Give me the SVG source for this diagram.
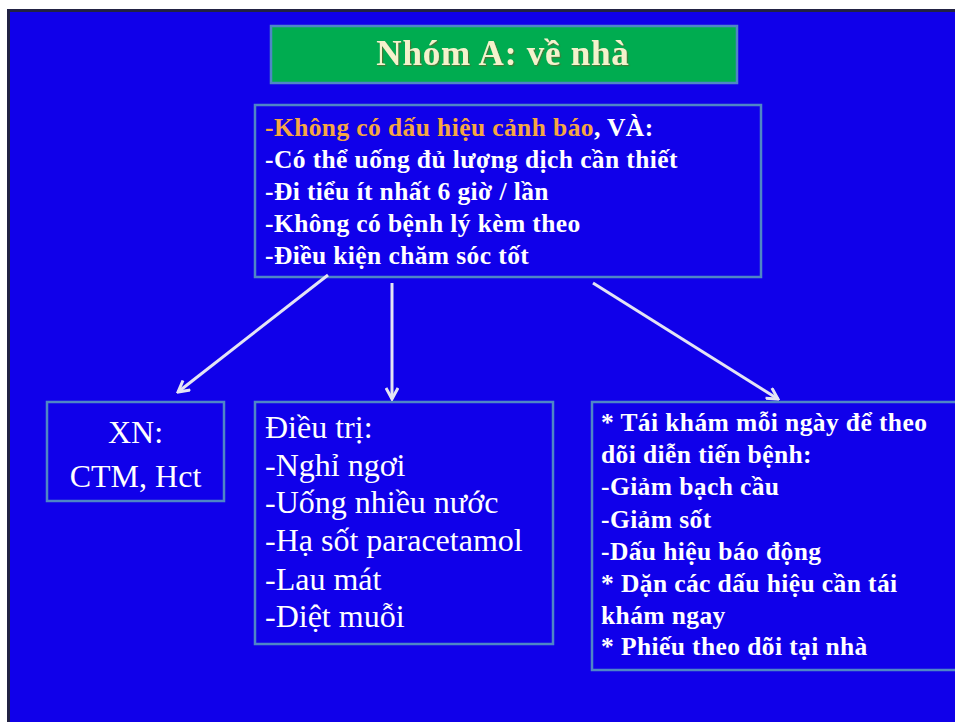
<svg xmlns="http://www.w3.org/2000/svg" width="955" height="722" viewBox="0 0 955 722">
<style>
.box{fill:none;stroke:#4f86c6;stroke-width:2.5}
.b{font-family:"Liberation Serif","Times New Roman",serif;font-weight:bold;font-size:25.5px;fill:#ffffff;letter-spacing:0.4px}
.r{font-family:"Liberation Serif","Times New Roman",serif;font-size:32px;fill:#ffffff}
.conn{stroke:#e4e4f4;stroke-width:3;fill:none;marker-end:url(#ah)}
</style>
<defs>
<marker id="ah" viewBox="0 0 14 14" refX="12" refY="7" markerWidth="14" markerHeight="14" markerUnits="userSpaceOnUse" orient="auto">
<path d="M1,1 L12,7 L1,13" fill="none" stroke="#e4e4f4" stroke-width="3" stroke-linejoin="miter"/>
</marker>
<filter id="sh" x="-5%" y="-20%" width="110%" height="140%">
<feDropShadow dx="1.2" dy="1.2" stdDeviation="0.4" flood-color="#5a6a30" flood-opacity="0.8"/>
</filter>
</defs>
<rect x="0" y="0" width="955" height="722" fill="#ffffff"/>
<rect x="8.5" y="10.5" width="960" height="720" fill="#1000ea" stroke="#222244" stroke-width="3"/>

<g id="title">
<rect x="271" y="26" width="466" height="57" fill="#00ac50" stroke="#4f86c6" stroke-width="2.5"/>
<text x="503" y="65" text-anchor="middle" font-family="'Liberation Serif','Times New Roman',serif" font-weight="bold" font-size="35" letter-spacing="0.8" fill="#f4f2cc" filter="url(#sh)">Nhóm A: về nhà</text>
</g>

<g id="conditions">
<rect class="box" x="255" y="105" width="506" height="172"/>
<text class="b" x="265" y="136"><tspan fill="#f5a742">-Không có dấu hiệu cảnh báo</tspan>, VÀ:</text>
<text class="b" x="265" y="168">-Có thể uống đủ lượng dịch cần thiết</text>
<text class="b" x="265" y="200">-Đi tiểu ít nhất 6 giờ / lần</text>
<text class="b" x="265" y="232">-Không có bệnh lý kèm theo</text>
<text class="b" x="265" y="264">-Điều kiện chăm sóc tốt</text>
</g>

<g id="xn">
<rect class="box" x="47" y="402" width="177" height="99"/>
<text class="r" x="135.5" y="443" text-anchor="middle" font-size="36">XN:</text>
<text class="r" x="135.5" y="487" text-anchor="middle" font-size="36">CTM, Hct</text>
</g>

<g id="treatment">
<rect class="box" x="255" y="402" width="298" height="242"/>
<text class="r" x="265" y="438">Điều trị:</text>
<text class="r" x="265" y="476">-Nghỉ ngơi</text>
<text class="r" x="265" y="513">-Uống nhiều nước</text>
<text class="r" x="265" y="551">-Hạ sốt paracetamol</text>
<text class="r" x="265" y="590">-Lau mát</text>
<text class="r" x="265" y="627">-Diệt muỗi</text>
</g>

<g id="followup">
<rect class="box" x="592" y="402" width="368" height="268"/>
<text class="b" x="601" y="431">* Tái khám mỗi ngày để theo</text>
<text class="b" x="601" y="463">dõi diễn tiến bệnh:</text>
<text class="b" x="601" y="495">-Giảm bạch cầu</text>
<text class="b" x="601" y="528">-Giảm sốt</text>
<text class="b" x="601" y="560">-Dấu hiệu báo động</text>
<text class="b" x="601" y="592">* Dặn các dấu hiệu cần tái</text>
<text class="b" x="601" y="624">khám ngay</text>
<text class="b" x="601" y="655">* Phiếu theo dõi tại nhà</text>
</g>

<g id="connectors">
<line class="conn" x1="328" y1="275" x2="178" y2="392"/>
<line class="conn" x1="392" y1="283" x2="392" y2="399"/>
<line class="conn" x1="593" y1="283" x2="778" y2="399"/>
</g>
</svg>
